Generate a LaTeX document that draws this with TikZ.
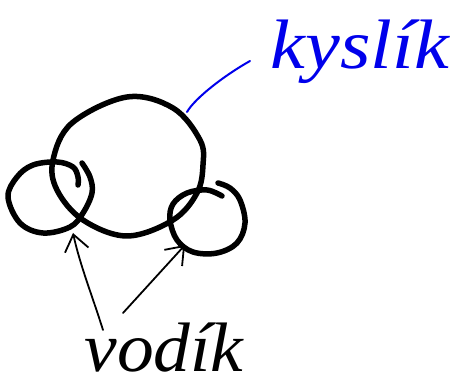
\documentclass[tikz,border=0pt]{standalone}
\usepackage{fontspec}
\setmainfont{Liberation Serif}
\usetikzlibrary{arrows.meta}
\definecolor{penblue}{RGB}{0,0,235}
\tikzset{
  thickpen/.style={line width=5.5pt, line cap=round, line join=round},
  thinpen/.style={line width=1.8pt, line cap=round, line join=round},
  bluepen/.style={line width=2pt, penblue, line cap=round},
  handtext/.style={inner sep=0pt, font=\itshape\fontsize{70}{70}\selectfont},
  barb/.style={-{Straight Barb[length=16pt,width=24pt,line width=1.8pt]}}
}
\begin{document}
\begin{tikzpicture}[x=1pt,y=-1pt]
\useasboundingbox (0,0) rectangle (461,387);
% oxygen (big circle)
\draw[thickpen] plot[smooth cycle, tension=0.6] coordinates{
 (127,97) (173,108) (200,140) (203,165) (197,193) (173,220)
 (127,236) (83,220) (57,190) (53,160) (72,123)};
% left hydrogen
\draw[thickpen] plot[smooth, tension=0.6] coordinates{
 (82,163) (90,177) (92,193) (83,213) (70,227) (43,233) (20,223)
 (8,197) (17,177) (33,165) (57,162) (73,167) (78,177) (78,185)};
% right hydrogen
\draw[thickpen] plot[smooth, tension=0.6] coordinates{
 (222,196) (207,190) (187,193) (173,204) (170,220) (177,240) (193,252)
 (217,253) (237,243) (245,223) (240,200) (230,188) (218,183)};
% labels
\node[handtext, text=penblue, xscale=1.12] (kys) at (360,52) {kyslík};
\node[handtext, xscale=1.05] (vod) at (164,348) {vodík};
\coordinate (ox) at (187,112);
\coordinate (kysend) at (250,61);
\coordinate (hl) at (73,233);
\coordinate (hr) at (185,245);
\coordinate (vl) at (103,330);
\coordinate (vr) at (123,313);
\draw[bluepen] (ox) .. controls (195,98) and (225,75) .. (kysend);
\draw[thinpen, barb] (vl) .. controls (92,295) and (80,265) .. (hl);
\draw[thinpen, barb] (vr) -- (hr);
\end{tikzpicture}
\end{document}
